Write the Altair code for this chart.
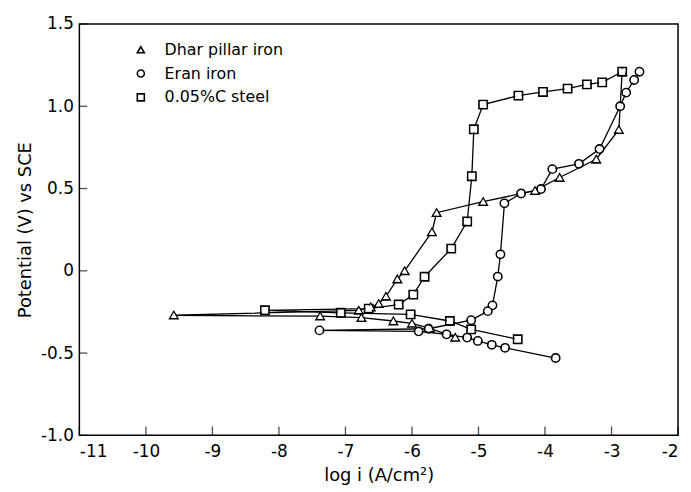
import altair as alt
import pandas as pd

series_names = ["Dhar pillar iron", "Eran iron", "0.05%C steel"]

dhar_x = [-5.35, -5.73, -6.00, -6.28, -6.76, -7.38, -9.58,
          -6.80, -6.62, -6.50, -6.39, -6.22, -6.11, -5.70, -5.63, -4.93, -4.15, -3.78, -3.23, -2.89, -2.84]
dhar_y = [-0.405, -0.35, -0.32, -0.305, -0.285, -0.276, -0.27,
          -0.24, -0.22, -0.20, -0.155, -0.05, 0.0, 0.236, 0.353, 0.42, 0.487, 0.567, 0.678, 0.858, 1.21]

eran_x = [-3.84, -4.60, -4.80, -5.01, -5.17, -5.48, -5.90, -7.39,
          -5.75, -5.11, -4.86, -4.79, -4.71, -4.67, -4.61, -4.36, -4.06, -3.89, -3.49, -3.18, -2.87, -2.78, -2.66, -2.58]
eran_y = [-0.53, -0.468, -0.45, -0.426, -0.406, -0.386, -0.368, -0.362,
          -0.352, -0.30, -0.245, -0.21, -0.035, 0.10, 0.41, 0.47, 0.497, 0.618, 0.65, 0.74, 1.0, 1.083, 1.16, 1.21]

steel_x = [-4.41, -5.11, -5.43, -6.02, -7.07, -8.21,
           -6.65, -6.20, -5.98, -5.81, -5.41, -5.17, -5.10, -5.07, -4.93, -4.40, -4.03, -3.66, -3.37, -3.14, -2.84]
steel_y = [-0.416, -0.356, -0.305, -0.265, -0.255, -0.24,
           -0.23, -0.205, -0.145, -0.036, 0.135, 0.30, 0.575, 0.86, 1.01, 1.065, 1.087, 1.107, 1.133, 1.145, 1.21]

x_ticks = [-11, -10, -9, -8, -7, -6, -5, -4, -3, -2]
y_ticks = [-1.0, -0.5, 0.0, 0.5, 1.0, 1.5]

rows = []
for name, xs, ys in [(series_names[0], dhar_x, dhar_y),
                     (series_names[1], eran_x, eran_y),
                     (series_names[2], steel_x, steel_y)]:
    for i, (a, b) in enumerate(zip(xs, ys)):
        rows.append({"series": name, "logi": a, "E": b, "k": i})
df = pd.DataFrame(rows)

FONT = "DejaVu Sans"

xs = alt.Scale(domain=[-11, -2], nice=False, zero=False)
ys = alt.Scale(domain=[-1.0, 1.5], nice=False, zero=False)
shape_scale = alt.Scale(domain=series_names, range=["triangle-up", "circle", "square"])

legend = alt.Legend(title=None, orient="none", legendX=54, legendY=18,
                    labelFont=FONT, labelFontSize=16, labelColor="black",
                    symbolSize=50, symbolStrokeColor="black", symbolFillColor="white",
                    symbolStrokeWidth=1.6, symbolOpacity=1,
                    rowPadding=8, labelOffset=16)

x_enc = alt.X("logi:Q", scale=xs,
              axis=alt.Axis(values=x_ticks, title="log i (A/cm²)", grid=False, ticks=False,
                            domain=False, labelFontSize=17, labelFont=FONT, labelColor="black",
                            labelPadding=8, titleFontSize=18, titleFont=FONT,
                            titleFontWeight="normal", titleColor="black", titlePadding=8,
                            labelExpr="replace(format(datum.value, 'd'), '−', '-')"))
y_enc = alt.Y("E:Q", scale=ys,
              axis=alt.Axis(values=y_ticks, title="Potential (V) vs SCE", grid=False, ticks=False,
                            domain=False, labelFontSize=17, labelFont=FONT, labelColor="black",
                            labelPadding=6, titleFontSize=18, titleFont=FONT,
                            titleFontWeight="normal", titleColor="black", titlePadding=6,
                            labelExpr="datum.value == 0 ? '0' : replace(format(datum.value, '.1f'), '−', '-')"))

base = alt.Chart(df)

lines = base.mark_line(color="black", strokeWidth=1.3).encode(
    x=x_enc, y=y_enc, detail="series:N", order="k:Q")

outlines = base.mark_point(filled=False, color="black", strokeWidth=1.6, size=70, opacity=1).encode(
    x="logi:Q", y="E:Q",
    shape=alt.Shape("series:N", scale=shape_scale, legend=legend))

fills = base.mark_point(filled=True, color="white", size=38, opacity=1).encode(
    x="logi:Q", y="E:Q",
    shape=alt.Shape("series:N", scale=shape_scale, legend=legend))

xt_df = pd.DataFrame({"t": x_ticks})
yt_df = pd.DataFrame({"t": y_ticks})

xticks = alt.Chart(xt_df).mark_tick(orient="vertical", size=9, thickness=1.3,
                                    color="black", yOffset=-4.5).encode(
    x="t:Q", y=alt.datum(-1.0))
yticks = alt.Chart(yt_df).mark_tick(orient="horizontal", size=8, thickness=1.3,
                                    color="black", xOffset=4).encode(
    x=alt.datum(-11), y="t:Q")

chart = alt.layer(lines, outlines, fills, xticks, yticks).properties(
    width=604, height=415,
    background="white",
    autosize=alt.AutoSizeParams(type="none"),
    padding={"left": 72, "top": 14, "right": 5, "bottom": 55},
).configure_view(stroke="black", strokeWidth=1.5)

chart.save("out.html", embed_options={"renderer": "svg", "actions": False})
